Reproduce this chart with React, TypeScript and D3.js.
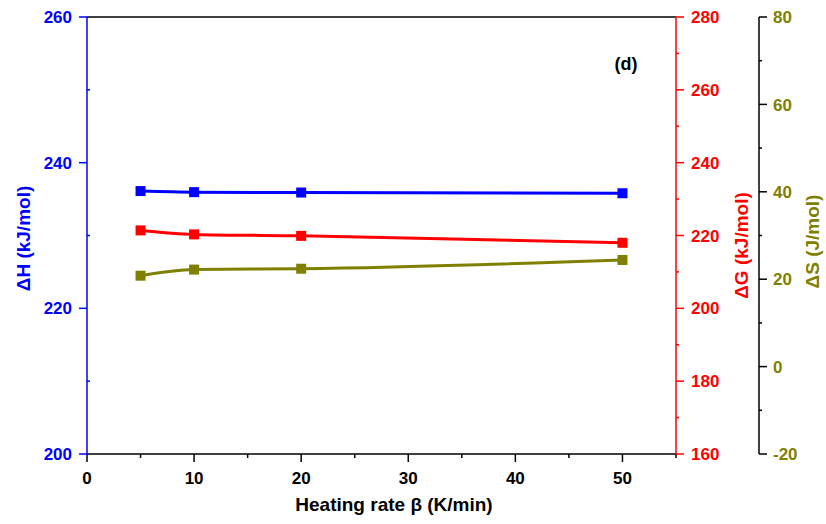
import * as d3 from "d3";

// heating rate (K/min)
const rates = [5, 10, 20, 50];
const dH = [236.1, 235.95, 235.9, 235.8]; // kJ/mol
const dG = [221.4, 220.3, 219.9, 218.0]; // kJ/mol
const dS = [20.8, 22.2, 22.4, 24.4]; // J/mol

const xTicks = [0, 10, 20, 30, 40, 50];
const hTicks = [200, 220, 240, 260];
const gTicks = [160, 180, 200, 220, 240, 260, 280];
const sTicks = [-20, 0, 20, 40, 60, 80];

const BLUE = "#0000ff";
const RED = "#ff0000";
const OLIVE = "#808000";
const FONT = "'Liberation Sans', Arial, sans-serif";

export default function App() {
  const width = 826;
  const height = 524;
  const left = 87, right = 676, top = 17, bottom = 454;
  const axis3 = 759;

  const x = d3.scaleLinear().domain([0, 55]).range([left, right]);
  const yH = d3.scaleLinear().domain([200, 260]).range([bottom, top]);
  const yG = d3.scaleLinear().domain([160, 280]).range([bottom, top]);
  const yS = d3.scaleLinear().domain([-20, 80]).range([bottom, top]);

  const series = [
    { vals: dH, y: yH, color: BLUE },
    { vals: dG, y: yG, color: RED },
    { vals: dS, y: yS, color: OLIVE },
  ];

  const mid = (a: number, b: number) => (a + b) / 2;
  const tickLen = 8;

  return (
    <svg width={width} height={height} style={{ position: "absolute", left: 0, top: 0 }} fontFamily={FONT} fontWeight="bold">
      <rect width={width} height={height} fill="#fff" />
      {/* frame top */}
      <line x1={left} x2={right} y1={top} y2={top} stroke="#000" strokeWidth={1.5} />

      {/* bottom axis */}
      <line x1={left} x2={right} y1={bottom} y2={bottom} stroke="#000" strokeWidth={1.5} />
      {d3.range(0, 56, 5).map((t) => (
        <line key={"xm" + t} x1={x(t)} x2={x(t)} y1={bottom} y2={bottom + (t % 10 === 0 ? tickLen : 4)} stroke="#000" strokeWidth={1.5} />
      ))}
      {xTicks.map((t) => (
        <text key={"xt" + t} x={x(t)} y={484} textAnchor="middle" fontSize={17} fill="#000">{t}</text>
      ))}
      <text x={394} y={511} textAnchor="middle" fontSize={19} fill="#000">Heating rate β (K/min)</text>

      {/* left axis ΔH */}
      <line x1={left} x2={left} y1={top} y2={bottom} stroke={BLUE} strokeWidth={1.5} />
      {d3.range(200, 261, 10).map((t) => (
        <line key={"hm" + t} x1={left} x2={t % 20 === 0 ? left - tickLen : left + 3} y1={yH(t)} y2={yH(t)} stroke={BLUE} strokeWidth={1.5} />
      ))}
      {hTicks.map((t) => (
        <text key={"ht" + t} x={72} y={yH(t)} dy="0.36em" textAnchor="end" fontSize={17} fill={BLUE}>{t}</text>
      ))}
      <text transform={`translate(30,${mid(top, bottom) + 3}) rotate(-90)`} textAnchor="middle" fontSize={19} fill={BLUE}>ΔH (kJ/mol)</text>

      {/* right axis ΔG */}
      <line x1={right} x2={right} y1={top} y2={bottom} stroke={RED} strokeWidth={1.5} />
      {d3.range(160, 281, 10).map((t) => (
        <line key={"gm" + t} x1={right} x2={right + (t % 20 === 0 ? tickLen : 3)} y1={yG(t)} y2={yG(t)} stroke={RED} strokeWidth={1.5} />
      ))}
      {gTicks.map((t) => (
        <text key={"gt" + t} x={691} y={yG(t)} dy="0.36em" textAnchor="start" fontSize={17} fill={RED}>{t}</text>
      ))}
      <text transform={`translate(748,${mid(top, bottom) + 10}) rotate(-90)`} textAnchor="middle" fontSize={19} fill={RED}>ΔG (kJ/mol)</text>

      {/* third axis ΔS */}
      <line x1={axis3} x2={axis3} y1={top} y2={bottom} stroke="#000" strokeWidth={1.5} />
      {d3.range(-20, 81, 10).map((t) => (
        <line key={"sm" + t} x1={axis3} x2={t % 20 === 0 ? axis3 + tickLen : axis3 + 3} y1={yS(t)} y2={yS(t)} stroke="#000" strokeWidth={1.5} />
      ))}
      {sTicks.map((t) => (
        <text key={"st" + t} x={773} y={yS(t)} dy="0.36em" textAnchor="start" fontSize={17} fill={OLIVE}>{t}</text>
      ))}
      <text transform={`translate(819,${mid(top, bottom) + 6}) rotate(-90)`} textAnchor="middle" fontSize={19} fill={OLIVE}>ΔS (J/mol)</text>

      {/* data */}
      {series.map((s, i) => {
        const line = d3.line<number>()
          .x((_, j) => x(rates[j]))
          .y((v) => s.y(v))
          .curve(d3.curveMonotoneX);
        return (
          <g key={i}>
            <path d={line(s.vals) ?? ""} fill="none" stroke={s.color} strokeWidth={3} />
            {s.vals.map((v, j) => (
              <rect key={j} x={x(rates[j]) - 5} y={s.y(v) - 5} width={10} height={10} fill={s.color} />
            ))}
          </g>
        );
      })}

      <text x={626} y={70} textAnchor="middle" fontSize={18} fill="#000">(d)</text>
    </svg>
  );
}
